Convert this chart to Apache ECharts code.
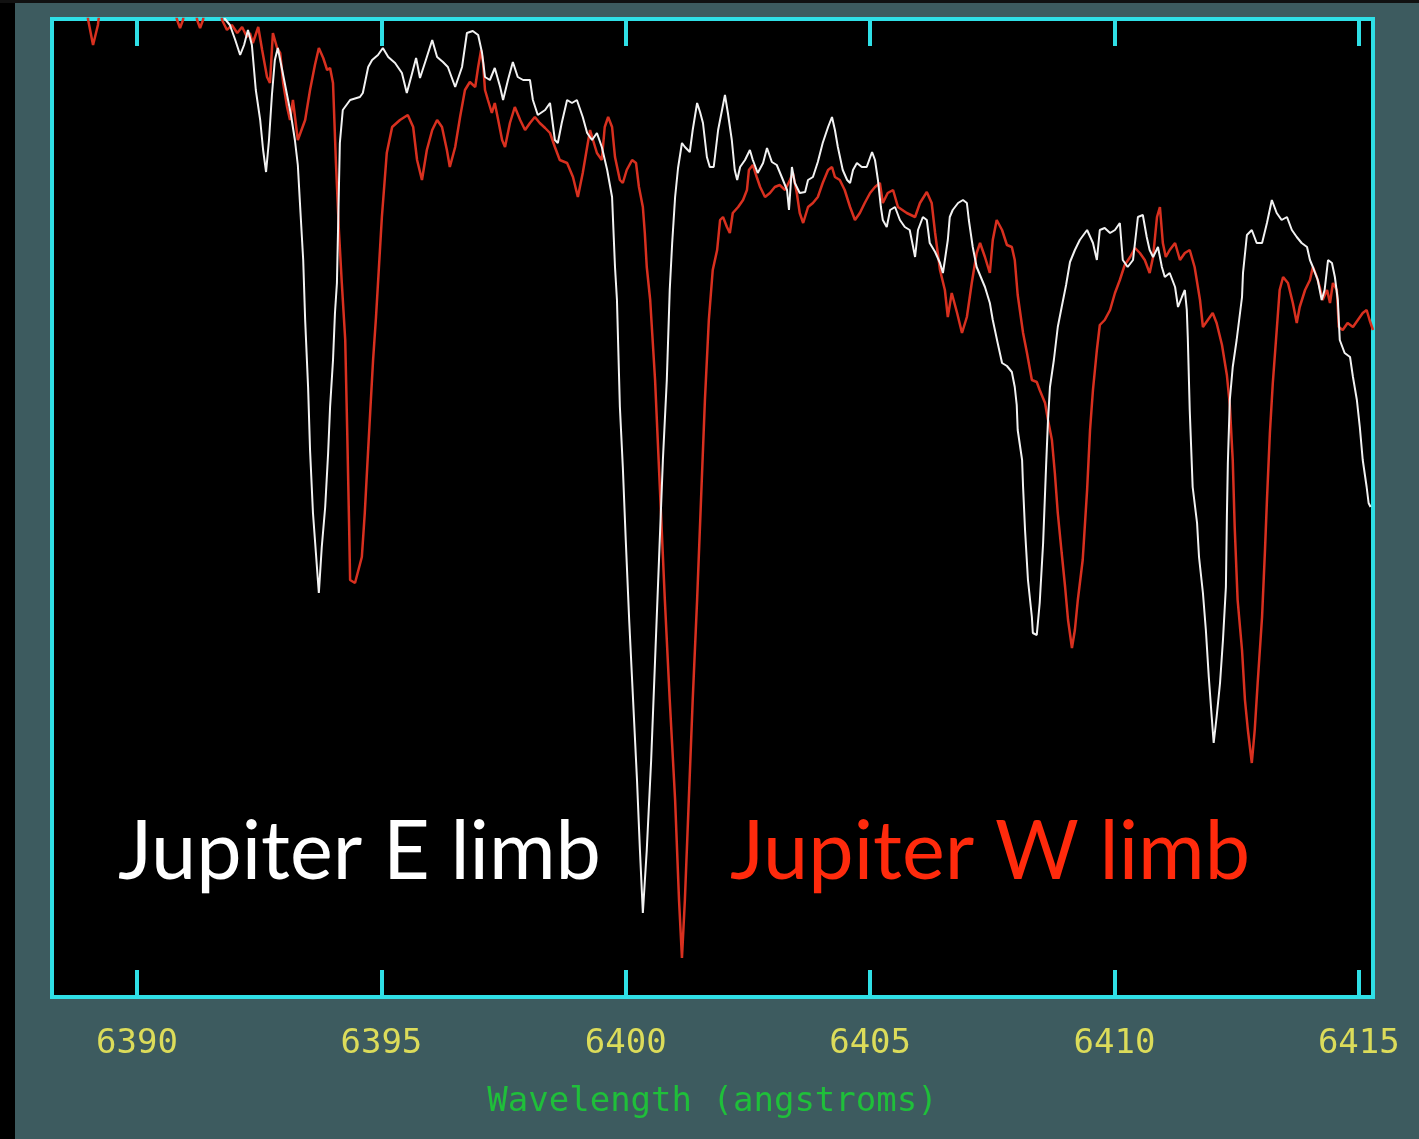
<!DOCTYPE html>
<html>
<head>
<meta charset="utf-8">
<style>
html,body{margin:0;padding:0;background:#3d5b5f;}
#chart{width:1419px;height:1139px;}
</style>
<script src="https://cdn.jsdelivr.net/npm/echarts@6/dist/echarts.min.js"></script>
</head>
<body>
<div id="chart"></div>
<script>
// Wavelength tick labels (angstroms)
const tickValues = [6390, 6395, 6400, 6405, 6410, 6415];
const axisTitle = 'Wavelength (angstroms)';
const labelE = 'Jupiter E limb';
const labelW = 'Jupiter W limb';

// Jupiter E limb (white) spectrum: wavelength (A) and flux (arbitrary counts)
const eWave = [6388.26,6391.60,6391.80,6391.90,6392.01,6392.11,6392.19,6392.27,6392.35,6392.43,6392.52,6392.58,6392.64,6392.70,6392.76,6392.82,6392.88,6392.97,6393.05,6393.15,6393.23,6393.29,6393.33,6393.40,6393.44,6393.50,6393.54,6393.60,6393.66,6393.70,6393.72,6393.78,6393.85,6393.91,6393.95,6394.01,6394.05,6394.09,6394.15,6394.21,6394.36,6394.56,6394.62,6394.73,6394.81,6394.93,6395.03,6395.14,6395.28,6395.42,6395.52,6395.63,6395.71,6395.79,6395.91,6396.04,6396.14,6396.26,6396.36,6396.51,6396.65,6396.75,6396.87,6396.98,6397.06,6397.12,6397.22,6397.32,6397.43,6397.49,6397.59,6397.69,6397.79,6397.90,6398.04,6398.10,6398.20,6398.35,6398.45,6398.55,6398.61,6398.69,6398.80,6398.90,6399.00,6399.12,6399.21,6399.31,6399.41,6399.51,6399.62,6399.72,6399.78,6399.82,6399.88,6399.94,6400.00,6400.07,6400.15,6400.23,6400.29,6400.35,6400.43,6400.52,6400.60,6400.68,6400.76,6400.84,6400.90,6400.95,6401.01,6401.07,6401.15,6401.21,6401.31,6401.37,6401.46,6401.52,6401.58,6401.66,6401.72,6401.80,6401.89,6401.97,6402.03,6402.09,6402.17,6402.23,6402.28,6402.34,6402.44,6402.54,6402.60,6402.70,6402.81,6402.89,6402.99,6403.09,6403.20,6403.30,6403.34,6403.40,6403.46,6403.56,6403.67,6403.73,6403.83,6403.93,6404.03,6404.14,6404.22,6404.28,6404.34,6404.44,6404.53,6404.59,6404.65,6404.73,6404.83,6404.93,6405.04,6405.10,6405.16,6405.22,6405.26,6405.34,6405.41,6405.51,6405.61,6405.71,6405.81,6405.88,6405.92,6405.98,6406.08,6406.16,6406.22,6406.33,6406.43,6406.49,6406.53,6406.59,6406.63,6406.69,6406.80,6406.90,6406.98,6407.02,6407.10,6407.18,6407.29,6407.35,6407.45,6407.51,6407.61,6407.70,6407.80,6407.90,6407.96,6408.00,6408.02,6408.11,6408.13,6408.17,6408.23,6408.31,6408.33,6408.41,6408.47,6408.54,6408.60,6408.64,6408.68,6408.76,6408.84,6408.92,6409.01,6409.09,6409.19,6409.29,6409.44,6409.56,6409.64,6409.70,6409.80,6409.91,6410.01,6410.11,6410.17,6410.27,6410.38,6410.48,6410.58,6410.66,6410.72,6410.79,6410.89,6410.97,6411.03,6411.13,6411.24,6411.30,6411.38,6411.44,6411.48,6411.50,6411.54,6411.60,6411.69,6411.73,6411.81,6411.87,6411.93,6411.99,6412.03,6412.09,6412.16,6412.22,6412.28,6412.30,6412.32,6412.36,6412.42,6412.50,6412.61,6412.63,6412.71,6412.81,6412.91,6413.02,6413.12,6413.22,6413.32,6413.42,6413.53,6413.63,6413.73,6413.83,6413.94,6414.00,6414.06,6414.16,6414.24,6414.30,6414.37,6414.45,6414.51,6414.57,6414.61,6414.71,6414.82,6414.88,6414.96,6415.02,6415.08,6415.16,6415.20,6415.24];
const eFlux = [1027,1007,978,972,957,942,952,967,952,907,877,847,825,857,902,937,949,927,907,882,857,832,797,737,677,610,547,484,444,417,404,450,490,544,590,637,684,714,854,887,897,900,904,930,937,942,949,940,934,924,904,924,939,919,937,957,940,935,930,910,930,964,966,962,944,920,917,929,910,897,917,935,920,917,917,897,882,887,894,857,854,874,897,894,897,880,864,857,864,850,827,800,730,697,590,530,457,377,297,217,147,84,147,237,337,437,537,617,707,754,800,829,854,850,845,867,894,885,874,840,830,830,867,887,902,884,857,827,817,830,837,847,837,824,834,849,835,832,819,807,787,830,814,804,805,817,820,835,854,870,880,867,850,827,817,814,827,834,830,830,845,837,817,790,777,770,787,790,777,770,767,750,740,767,780,777,754,745,734,724,737,757,780,787,794,797,794,777,750,730,717,710,694,677,654,634,631,625,610,592,567,537,510,467,417,380,364,362,394,454,530,577,610,637,670,690,712,735,747,757,767,754,737,767,769,764,767,774,737,730,737,780,782,760,747,740,750,730,720,724,710,690,700,707,687,660,587,510,474,440,404,367,320,280,254,280,314,357,410,480,534,597,630,657,700,724,762,767,754,754,774,797,784,777,780,767,760,754,750,737,730,717,697,707,737,734,720,697,657,644,640,620,597,570,537,510,494,490];

// Jupiter W limb (red) spectrum: wavelength (A) and flux (arbitrary counts)
const wWave = [6388.26,6388.94,6389.00,6389.10,6389.20,6389.28,6390.68,6390.82,6390.88,6390.94,6391.02,6391.15,6391.23,6391.29,6391.35,6391.43,6391.66,6391.74,6391.84,6391.94,6392.05,6392.15,6392.25,6392.31,6392.37,6392.48,6392.56,6392.66,6392.72,6392.78,6392.86,6392.93,6392.99,6393.07,6393.13,6393.19,6393.29,6393.44,6393.54,6393.64,6393.72,6393.81,6393.89,6393.95,6394.01,6394.07,6394.13,6394.19,6394.26,6394.30,6394.34,6394.36,6394.46,6394.60,6394.66,6394.71,6394.77,6394.83,6394.89,6395.01,6395.11,6395.22,6395.38,6395.54,6395.65,6395.73,6395.83,6395.93,6396.04,6396.14,6396.24,6396.34,6396.40,6396.51,6396.61,6396.71,6396.81,6396.92,6396.98,6397.04,6397.08,6397.12,6397.18,6397.26,6397.32,6397.39,6397.47,6397.53,6397.63,6397.73,6397.84,6397.94,6398.04,6398.14,6398.24,6398.35,6398.45,6398.55,6398.65,6398.80,6398.92,6399.02,6399.12,6399.21,6399.27,6399.33,6399.41,6399.51,6399.57,6399.64,6399.72,6399.78,6399.88,6399.94,6400.02,6400.13,6400.21,6400.27,6400.35,6400.39,6400.43,6400.50,6400.60,6400.70,6400.80,6400.90,6401.01,6401.09,6401.15,6401.21,6401.29,6401.37,6401.46,6401.54,6401.62,6401.70,6401.78,6401.87,6401.93,6401.99,6402.07,6402.13,6402.19,6402.30,6402.40,6402.48,6402.52,6402.60,6402.68,6402.75,6402.85,6402.95,6403.05,6403.15,6403.26,6403.36,6403.42,6403.50,6403.56,6403.63,6403.73,6403.83,6403.93,6404.03,6404.14,6404.22,6404.28,6404.38,6404.48,6404.59,6404.69,6404.79,6404.89,6405.00,6405.10,6405.20,6405.26,6405.36,6405.47,6405.57,6405.75,6405.92,6406.02,6406.16,6406.26,6406.33,6406.43,6406.53,6406.59,6406.67,6406.78,6406.88,6406.98,6407.08,6407.18,6407.25,6407.35,6407.45,6407.51,6407.59,6407.70,6407.80,6407.90,6407.96,6408.02,6408.13,6408.21,6408.31,6408.41,6408.47,6408.58,6408.64,6408.72,6408.78,6408.84,6408.92,6408.99,6409.05,6409.13,6409.19,6409.25,6409.35,6409.44,6409.50,6409.56,6409.64,6409.70,6409.80,6409.91,6410.01,6410.11,6410.21,6410.32,6410.42,6410.52,6410.62,6410.72,6410.79,6410.87,6410.93,6410.99,6411.05,6411.13,6411.24,6411.34,6411.44,6411.54,6411.64,6411.75,6411.81,6411.91,6412.01,6412.09,6412.20,6412.30,6412.36,6412.42,6412.46,6412.52,6412.61,6412.67,6412.73,6412.81,6412.87,6412.93,6413.02,6413.08,6413.12,6413.18,6413.24,6413.32,6413.38,6413.45,6413.55,6413.65,6413.73,6413.79,6413.90,6414.00,6414.06,6414.14,6414.20,6414.26,6414.35,6414.41,6414.47,6414.55,6414.59,6414.67,6414.77,6414.88,6414.98,6415.08,6415.16,6415.22,6415.29];
const wFlux = [1017,1002,977,952,972,1007,1007,977,969,977,1002,1002,977,969,977,1002,1002,977,967,972,964,970,960,964,954,970,947,920,914,964,950,944,914,890,877,897,857,877,907,932,949,939,927,929,914,834,767,714,657,567,470,417,414,440,484,530,584,637,680,780,844,870,877,882,870,837,817,847,867,877,870,847,830,850,880,907,915,910,930,947,934,907,897,884,894,877,857,850,874,890,877,867,874,880,874,869,864,850,837,834,820,800,824,850,867,857,844,837,870,880,870,840,817,814,827,837,834,810,790,764,730,697,617,507,397,297,197,97,39,97,197,297,397,497,597,677,727,747,777,780,770,764,784,790,797,807,827,832,820,810,800,804,810,812,807,817,824,804,784,774,790,794,800,814,827,830,820,817,807,790,777,784,794,804,810,814,794,804,807,790,784,780,794,805,794,764,727,707,680,704,684,664,680,714,744,754,740,724,757,777,767,752,750,737,702,664,644,617,615,607,594,577,557,524,484,444,410,377,349,367,397,437,507,567,607,647,672,677,687,704,717,732,740,749,744,737,724,740,780,790,754,740,747,754,737,744,747,730,697,670,677,684,674,652,622,592,537,470,397,347,297,267,234,267,314,380,447,497,564,614,667,707,720,714,694,674,690,707,717,730,720,710,697,707,694,714,707,670,667,674,670,677,684,687,677,667];

const zip = (a, b) => a.map((v, i) => [v, b[i]]);

const cyan = '#2fdfe6';
const chart = echarts.init(document.getElementById('chart'), null, {renderer: 'canvas'});

const tickCommon = {
  show: true,
  inside: true,
  length: 27,
  customValues: tickValues,
  lineStyle: {color: cyan, width: 4}
};

chart.setOption({
  animation: false,
  backgroundColor: '#3d5b5f',
  grid: {
    left: 52, right: 46, top: 19, bottom: 142,
    show: true,
    backgroundColor: '#000000',
    borderColor: cyan,
    borderWidth: 4,
    outerBoundsMode: 'none'
  },
  xAxis: [{
    type: 'value',
    position: 'bottom',
    min: 6388.26,
    max: 6415.29,
    axisLine: {show: false},
    splitLine: {show: false},
    axisTick: tickCommon,
    axisLabel: {
      customValues: tickValues,
      formatter: v => String(Math.round(v)),
      color: '#dcdc5a',
      fontFamily: 'DejaVu Sans Mono',
      fontSize: 34,
      margin: 30,
      showMinLabel: true,
      showMaxLabel: true
    },
    name: axisTitle,
    nameLocation: 'middle',
    nameGap: 88,
    nameTextStyle: {color: '#1fbf3a', fontFamily: 'DejaVu Sans Mono', fontSize: 34}
  }, {
    type: 'value',
    position: 'top',
    min: 6388.26,
    max: 6415.29,
    axisLine: {show: false},
    splitLine: {show: false},
    axisTick: tickCommon,
    axisLabel: {show: false}
  }],
  yAxis: {
    type: 'value',
    min: 0,
    max: 978,
    show: false,
    splitLine: {show: false}
  },
  series: [{
    name: labelW,
    type: 'line',
    data: zip(wWave, wFlux),
    showSymbol: false,
    clip: true,
    lineStyle: {color: '#d8301f', width: 2.5},
    z: 3
  }, {
    name: labelE,
    type: 'line',
    data: zip(eWave, eFlux),
    showSymbol: false,
    clip: true,
    lineStyle: {color: '#f2f2f2', width: 2},
    z: 4
  }],
  graphic: [
    {type: 'rect', shape: {x: 0, y: 0, width: 15, height: 1139}, style: {fill: '#000'}, z: 100},
    {type: 'rect', shape: {x: 0, y: 0, width: 1419, height: 3}, style: {fill: '#111'}, z: 100},
    {type: 'text', z: 100, style: {x: 118, y: 812, text: labelE, fill: '#ffffff',
      font: '81px Lato', verticalAlign: 'top'}},
    {type: 'text', z: 100, style: {x: 730, y: 812, text: labelW, fill: '#ff2a0c',
      font: '81px Lato', verticalAlign: 'top'}}
  ]
});
</script>
</body>
</html>
